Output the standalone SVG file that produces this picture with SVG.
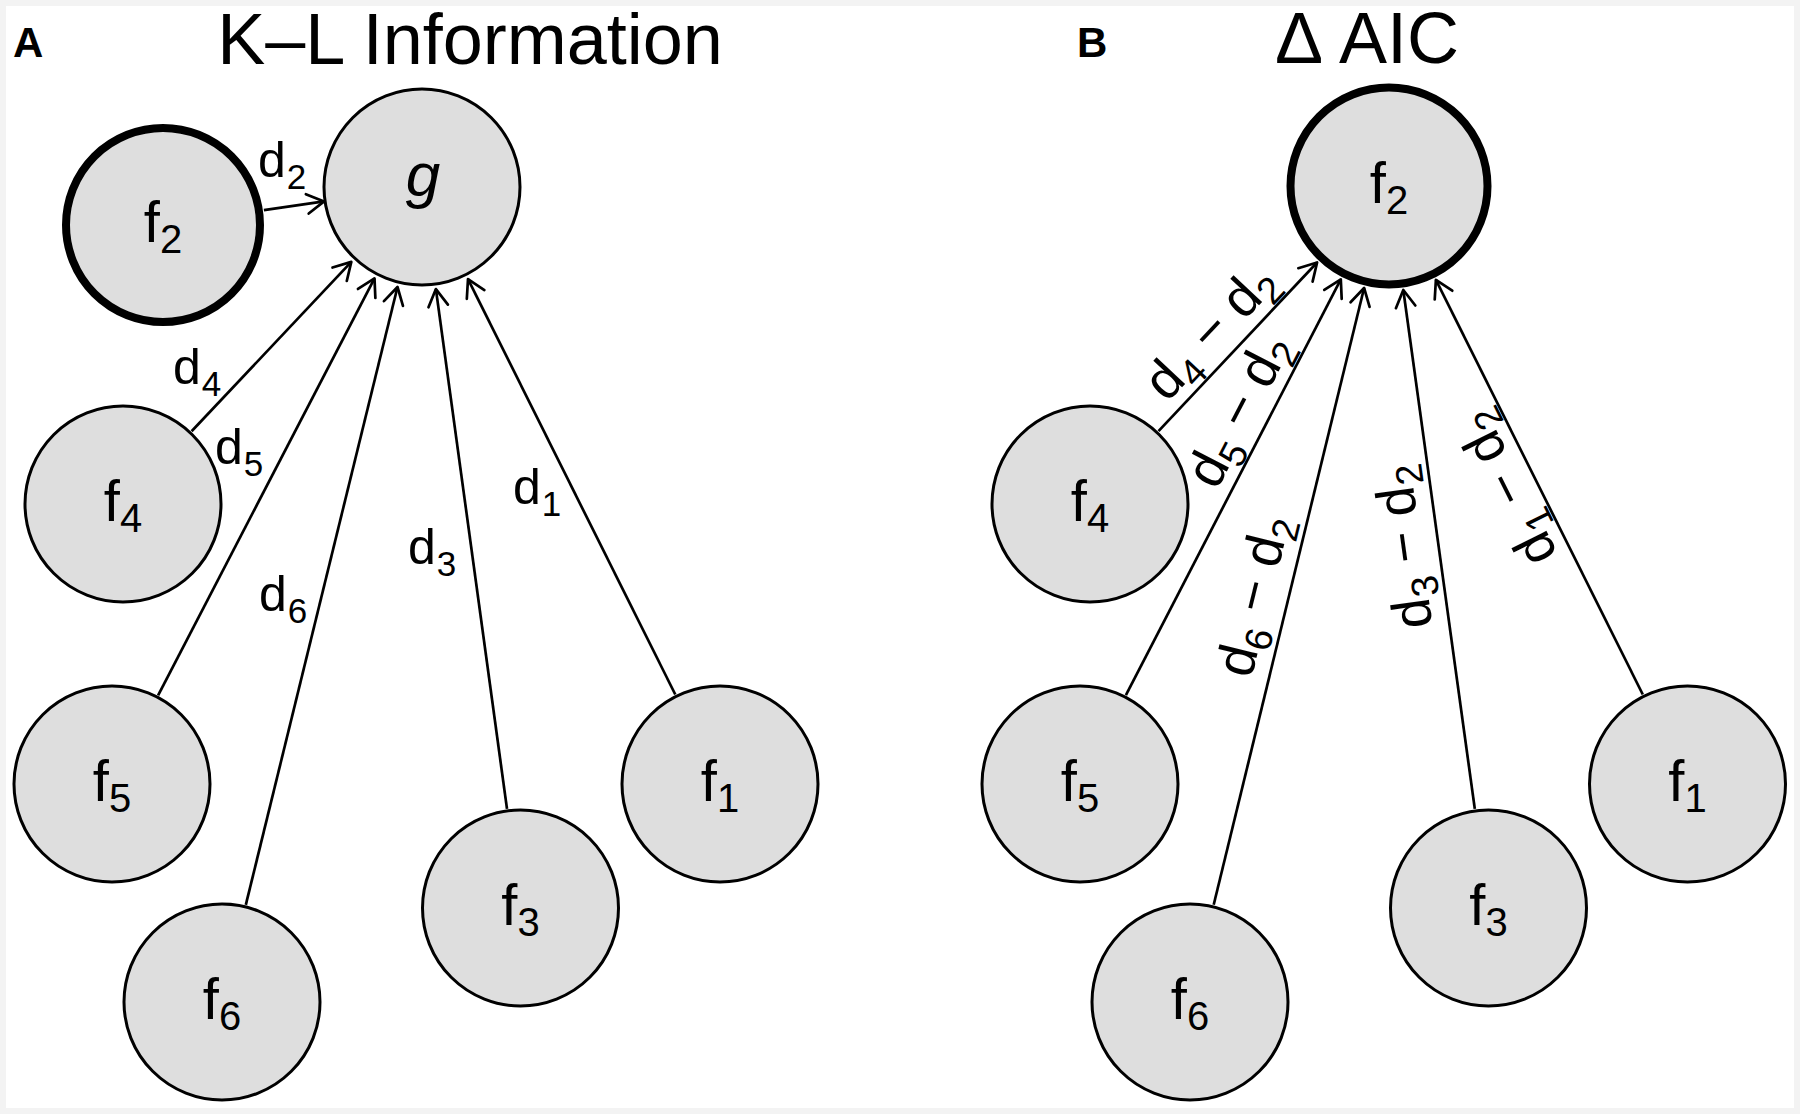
<svg xmlns="http://www.w3.org/2000/svg" width="1800" height="1114" viewBox="0 0 1800 1114">
<defs>
<style>
.bg{fill:#f3f3f3}
.paper{fill:#ffffff}
.node circle{fill:#dedede;stroke:#000;stroke-width:3}
.node.thick circle{stroke-width:8}
.t{font-family:"Liberation Sans",Arial,Helvetica,sans-serif;fill:#000}
.nl{font-size:58px}
.nl .s{font-size:40px}
.el{font-size:50px}
.el .s{font-size:35px}
.bl{font-size:54px}
.bl .s{font-size:38px}
.title{font-size:72px}
.panel{font-size:42px;font-weight:bold}
.edge{stroke:#000;stroke-width:2.7;fill:none;marker-end:url(#arr)}
</style>
<marker id="arr" viewBox="-20 -12 22 24" markerWidth="22" markerHeight="24" refX="0" refY="0" orient="auto" markerUnits="userSpaceOnUse">
<path d="M-17,-9.8 L0,0 L-17,9.8" fill="none" stroke="#000" stroke-width="2.7" stroke-linecap="round" stroke-linejoin="round"/>
</marker>
</defs>
<rect class="bg" x="0" y="0" width="1800" height="1114"/>
<rect class="paper" x="6" y="6" width="1788" height="1102"/>

<text class="t panel" x="13" y="57">A</text>
<text class="t title" x="470" y="64" text-anchor="middle">K–L Information</text>
<text class="t panel" x="1077" y="57">B</text>
<text class="t title" x="1367" y="63" text-anchor="middle">Δ AIC</text>

<g id="connectors">
<line class="edge" x1="263.9" y1="210.2" x2="324.1" y2="201.4"/>
<line class="edge" x1="191.6" y1="431.3" x2="351.3" y2="261.9"/>
<line class="edge" x1="158.1" y1="695.3" x2="374.5" y2="278.4"/>
<line class="edge" x1="245.8" y1="904.9" x2="397.5" y2="287.0"/>
<line class="edge" x1="507.0" y1="808.9" x2="435.9" y2="289.1"/>
<line class="edge" x1="675.3" y1="694.5" x2="468.0" y2="279.2"/>
<line class="edge" x1="1158.5" y1="431.1" x2="1317.1" y2="262.5"/>
<line class="edge" x1="1125.9" y1="695.2" x2="1340.8" y2="279.3"/>
<line class="edge" x1="1213.7" y1="904.8" x2="1364.1" y2="288.0"/>
<line class="edge" x1="1474.8" y1="808.9" x2="1403.3" y2="290.0"/>
<line class="edge" x1="1642.8" y1="694.5" x2="1435.9" y2="279.9"/>
<text class="t el" x="258" y="177">d<tspan class="s" dx="1" dy="12">2</tspan></text>
<text class="t el" x="173" y="384">d<tspan class="s" dx="1" dy="12">4</tspan></text>
<text class="t el" x="215" y="464">d<tspan class="s" dx="1" dy="12">5</tspan></text>
<text class="t el" x="513" y="504">d<tspan class="s" dx="1" dy="12">1</tspan></text>
<text class="t el" x="408" y="564">d<tspan class="s" dx="1" dy="12">3</tspan></text>
<text class="t el" x="259" y="611">d<tspan class="s" dx="1" dy="12">6</tspan></text>
<text class="t bl" transform="translate(1090,504) rotate(-46.76)" x="208" y="-13" text-anchor="middle">d<tspan class="s" dy="11">4</tspan><tspan dy="-11"> − d</tspan><tspan class="s" dy="11">2</tspan></text>
<text class="t bl" transform="translate(1080,784) rotate(-62.67)" x="405" y="-13" text-anchor="middle">d<tspan class="s" dy="11">5</tspan><tspan dy="-11"> − d</tspan><tspan class="s" dy="11">2</tspan></text>
<text class="t bl" transform="translate(1190,1002) rotate(-76.29)" x="410" y="-17" text-anchor="middle">d<tspan class="s" dy="11">6</tspan><tspan dy="-11"> − d</tspan><tspan class="s" dy="11">2</tspan></text>
<text class="t bl" transform="translate(1488.5,908) rotate(-97.85)" x="369" y="-17" text-anchor="middle">d<tspan class="s" dy="11">3</tspan><tspan dy="-11"> − d</tspan><tspan class="s" dy="11">2</tspan></text>
<text class="t bl" transform="translate(1687.5,784) rotate(-116.53)" x="345" y="-13" text-anchor="middle">d<tspan class="s" dy="11">1</tspan><tspan dy="-11"> − d</tspan><tspan class="s" dy="11">2</tspan></text>
</g>

<g id="A_g" class="node"><circle cx="422" cy="187" r="98"/><text class="t" x="423" y="196" text-anchor="middle" font-size="62" font-style="italic">g</text></g>
<g id="A_f2" class="node thick"><circle cx="163" cy="225" r="97"/><text class="t nl" x="163" y="242" text-anchor="middle">f<tspan class="s" dy="11">2</tspan></text></g>
<g id="A_f4" class="node"><circle cx="123" cy="504" r="98"/><text class="t nl" x="123" y="521" text-anchor="middle">f<tspan class="s" dy="11">4</tspan></text></g>
<g id="A_f5" class="node"><circle cx="112" cy="784" r="98"/><text class="t nl" x="112" y="801" text-anchor="middle">f<tspan class="s" dy="11">5</tspan></text></g>
<g id="A_f6" class="node"><circle cx="222" cy="1002" r="98"/><text class="t nl" x="222" y="1019" text-anchor="middle">f<tspan class="s" dy="11">6</tspan></text></g>
<g id="A_f3" class="node"><circle cx="520.5" cy="908" r="98"/><text class="t nl" x="520.5" y="925" text-anchor="middle">f<tspan class="s" dy="11">3</tspan></text></g>
<g id="A_f1" class="node"><circle cx="720" cy="784" r="98"/><text class="t nl" x="720" y="801" text-anchor="middle">f<tspan class="s" dy="11">1</tspan></text></g>

<g id="B_f2" class="node thick"><circle cx="1389" cy="186" r="98.5"/><text class="t nl" x="1389" y="203" text-anchor="middle">f<tspan class="s" dy="11">2</tspan></text></g>
<g id="B_f4" class="node"><circle cx="1090" cy="504" r="98"/><text class="t nl" x="1090" y="521" text-anchor="middle">f<tspan class="s" dy="11">4</tspan></text></g>
<g id="B_f5" class="node"><circle cx="1080" cy="784" r="98"/><text class="t nl" x="1080" y="801" text-anchor="middle">f<tspan class="s" dy="11">5</tspan></text></g>
<g id="B_f6" class="node"><circle cx="1190" cy="1002" r="98"/><text class="t nl" x="1190" y="1019" text-anchor="middle">f<tspan class="s" dy="11">6</tspan></text></g>
<g id="B_f3" class="node"><circle cx="1488.5" cy="908" r="98"/><text class="t nl" x="1488.5" y="925" text-anchor="middle">f<tspan class="s" dy="11">3</tspan></text></g>
<g id="B_f1" class="node"><circle cx="1687.5" cy="784" r="98"/><text class="t nl" x="1687.5" y="801" text-anchor="middle">f<tspan class="s" dy="11">1</tspan></text></g>
</svg>
